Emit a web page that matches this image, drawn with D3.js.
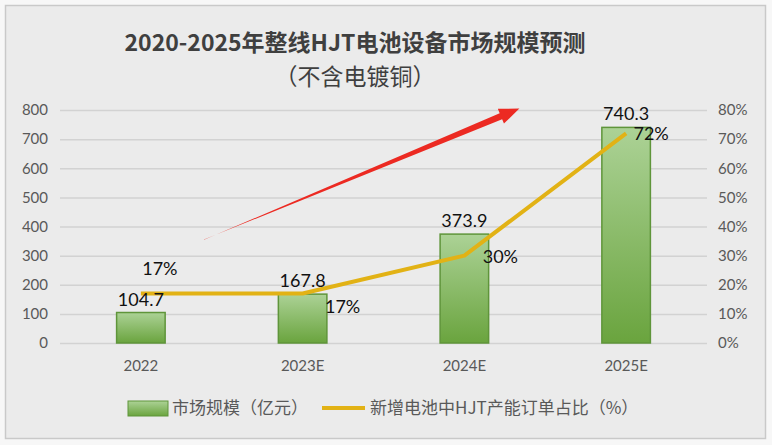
<!DOCTYPE html>
<html><head><meta charset="utf-8">
<script src="https://cdn.jsdelivr.net/npm/d3@7"></script>
<style>
html,body{margin:0;padding:0;background:#fff;}
svg{display:block;}
</style></head>
<body>
<svg id="chart" width="772" height="445"></svg>
<script>
const categories = ["2022", "2023E", "2024E", "2025E"];
const marketSize = [104.7, 167.8, 373.9, 740.3];
const hjtShare = [0.17, 0.17, 0.30, 0.72];
const leftTicks = [0, 100, 200, 300, 400, 500, 600, 700, 800];
const rightTicks = [0, 0.1, 0.2, 0.3, 0.4, 0.5, 0.6, 0.7, 0.8];
const titleLines = ["2020-2025年整线HJT电池设备市场规模预测", "（不含电镀铜）"];
const legendLabels = ["市场规模（亿元）", "新增电池中HJT产能订单占比（%）"];
// annotation arrow in data units: [category index, left-axis value]
const arrowFrom = [0.39, 355];
const arrowTo = [2.34, 805];

const svg = d3.select("#chart");
const W = 772, H = 445;
const numFont = "Lato, 'Open Sans', sans-serif";
const cjkFont = "'Noto Sans CJK SC', 'Noto Sans', sans-serif";

const defs = svg.append("defs");
const grad = defs.append("linearGradient").attr("id", "barGrad")
  .attr("x1", 0).attr("y1", 0).attr("x2", 0).attr("y2", 1);
grad.append("stop").attr("offset", "0%").attr("stop-color", "#acd296");
grad.append("stop").attr("offset", "100%").attr("stop-color", "#6aa43e");
const lg = defs.append("linearGradient").attr("id", "legGrad")
  .attr("x1", 0).attr("y1", 0).attr("x2", 0).attr("y2", 1);
lg.append("stop").attr("offset", "0%").attr("stop-color", "#acd296");
lg.append("stop").attr("offset", "100%").attr("stop-color", "#6aa43e");

// background panel
svg.append("rect").attr("x", 0).attr("y", 0).attr("width", W).attr("height", H).attr("fill", "#f7f7f7");
svg.append("rect").attr("x", 5.5).attr("y", 5.5).attr("width", 760).attr("height", 433)
  .attr("fill", "#ebebeb").attr("stroke", "#c9c9c9").attr("stroke-width", 1.5);

const plot = {left: 60, right: 707, top: 110, bottom: 343};
const x = d3.scaleBand().domain(categories).range([plot.left, plot.right]).paddingInner(0.7).paddingOuter(0.35);
const y = d3.scaleLinear().domain([0, 800]).range([plot.bottom, plot.top]);
const y2 = d3.scaleLinear().domain([0, 0.8]).range([plot.bottom, plot.top]);
const cx = d => x(d) + x.bandwidth() / 2;
const xIdx = d3.scaleLinear().domain([0, categories.length - 1]).range([cx(categories[0]), cx(categories[categories.length - 1])]);

// gridlines
const yAxisL = d3.axisLeft(y).tickValues(leftTicks).tickSize(-(plot.right - plot.left)).tickPadding(12).tickFormat(d3.format("d"));
const gL = svg.append("g").attr("transform", `translate(${plot.left},0)`).call(yAxisL);
gL.select(".domain").remove();
gL.selectAll(".tick line").attr("stroke", "#d2d2d2").attr("stroke-width", 1.5);
gL.selectAll(".tick text").attr("fill", "#595959").style("font-family", numFont).style("font-size", "15px");

const yAxisR = d3.axisRight(y2).tickValues(rightTicks).tickSize(0).tickPadding(11).tickFormat(d3.format(".0%"));
const gR = svg.append("g").attr("transform", `translate(${plot.right},0)`).call(yAxisR);
gR.select(".domain").remove();
gR.selectAll(".tick text").attr("fill", "#595959").style("font-family", numFont).style("font-size", "15px");

const xAxis = d3.axisBottom(x).tickSize(0).tickPadding(17);
const gX = svg.append("g").attr("transform", `translate(0,${plot.bottom})`).call(xAxis);
gX.select(".domain").remove();
gX.selectAll(".tick text").attr("fill", "#595959").style("font-family", numFont).style("font-size", "15px");

// bars
svg.append("g").selectAll("rect").data(categories).join("rect")
  .attr("x", d => x(d)).attr("width", x.bandwidth())
  .attr("y", (d, i) => y(marketSize[i])).attr("height", (d, i) => y(0) - y(marketSize[i]))
  .attr("fill", "url(#barGrad)").attr("stroke", "#5f953a").attr("stroke-width", 1.5);

// arrow (tapered)
(function(){
  const x0 = xIdx(arrowFrom[0]), y0 = y(arrowFrom[1]);
  const x1 = xIdx(arrowTo[0]), y1 = y(arrowTo[1]);
  const dx = x1 - x0, dy = y1 - y0, L = Math.hypot(dx, dy);
  const ux = dx / L, uy = dy / L, nx = -uy, ny = ux;
  const headL = 20, headW = 8, shaftW = 3.2;
  const bx = x1 - ux * headL, by = y1 - uy * headL;
  const pts = [
    [x0, y0],
    [bx + nx * shaftW, by + ny * shaftW],
    [bx + nx * headW, by + ny * headW],
    [x1, y1],
    [bx - nx * headW, by - ny * headW],
    [bx - nx * shaftW, by - ny * shaftW],
    [x0 + nx * 0.2, y0 + ny * 0.2]
  ];
  svg.append("path").attr("d", d3.line()(pts) + "Z").attr("fill", "#ec2a22");
})();

// line
svg.append("path").datum(categories)
  .attr("d", d3.line().x(d => cx(d)).y((d, i) => y2(hjtShare[i])))
  .attr("fill", "none").attr("stroke", "#e2b215").attr("stroke-width", 4).attr("stroke-linejoin", "round");

// bar labels
svg.append("g").selectAll("text").data(categories).join("text")
  .attr("x", d => cx(d)).attr("y", (d, i) => y(marketSize[i]) - 7)
  .attr("text-anchor", "middle").attr("fill", "#111")
  .style("font-family", numFont).style("font-size", "18px")
  .text((d, i) => marketSize[i].toFixed(1));

// line labels
const lineLabelOffsets = [[19, -18], [40, 20], [36, 7], [25, 7]];
svg.append("g").selectAll("text").data(categories).join("text")
  .attr("x", (d, i) => cx(d) + lineLabelOffsets[i][0])
  .attr("y", (d, i) => y2(hjtShare[i]) + lineLabelOffsets[i][1])
  .attr("text-anchor", "middle").attr("fill", "#111")
  .style("font-family", numFont).style("font-size", "18px")
  .text((d, i) => Math.round(hjtShare[i] * 100) + "%");

// title
svg.append("text").attr("x", 355).attr("y", 51).attr("text-anchor", "middle")
  .attr("fill", "#3f3f3f").style("font-family", cjkFont).style("font-size", "23px").style("font-weight", "bold")
  .text(titleLines[0]);
svg.append("text").attr("x", 355).attr("y", 85).attr("text-anchor", "middle")
  .attr("fill", "#3f3f3f").style("font-family", cjkFont).style("font-size", "23px")
  .text(titleLines[1]);

// legend
const leg = svg.append("g");
leg.append("rect").attr("x", 128).attr("y", 401).attr("width", 40).attr("height", 15)
  .attr("fill", "url(#legGrad)").attr("stroke", "#5f953a").attr("stroke-width", 1);
leg.append("text").attr("x", 172).attr("y", 414).attr("fill", "#595959")
  .style("font-family", cjkFont).style("font-size", "17px").text(legendLabels[0]);
leg.append("line").attr("x1", 322).attr("x2", 365).attr("y1", 408).attr("y2", 408)
  .attr("stroke", "#e2b215").attr("stroke-width", 4);
leg.append("text").attr("x", 370).attr("y", 414).attr("fill", "#595959")
  .style("font-family", cjkFont).style("font-size", "17px").text(legendLabels[1]);
</script>
</body></html>
